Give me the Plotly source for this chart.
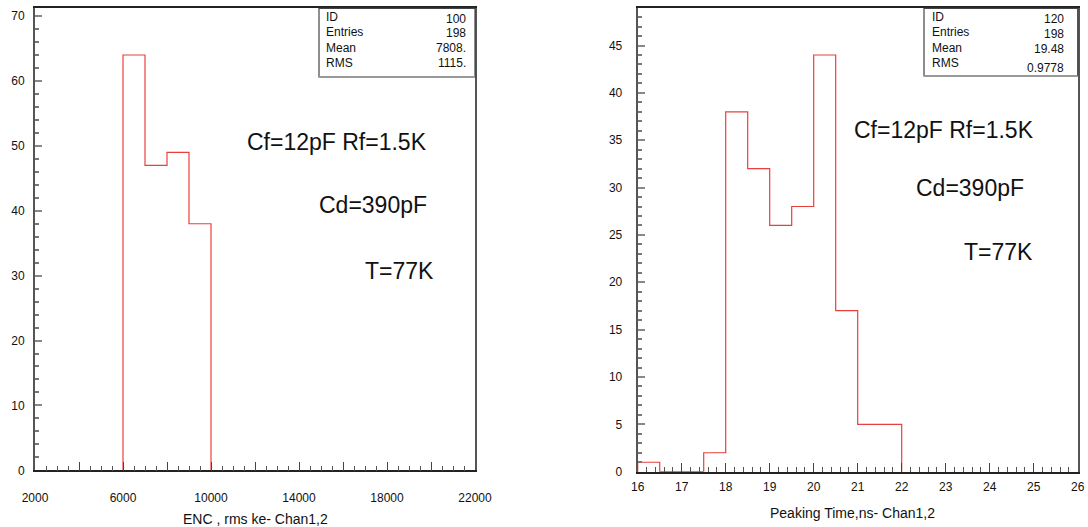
import plotly.graph_objects as go

W, H = 1088, 527

# ENC histogram (channel 1,2)
enc_edges = [6000, 7000, 8000, 9000, 10000]
enc_counts = [64, 47, 49, 38]
enc_stats = [("ID", "100"), ("Entries", "198"), ("Mean", "7808."), ("RMS", "1115.")]
enc_xticks = [2000, 4000, 6000, 8000, 10000, 12000, 14000, 16000, 18000, 20000, 22000]
enc_xlabels = ["2000", "", "6000", "", "10000", "", "14000", "", "18000", "", "22000"]

# Peaking time histogram (channel 1,2)
pt_edges = [16.0, 16.5, 17.0, 17.5, 18.0, 18.5, 19.0, 19.5, 20.0, 20.5, 21.0, 21.5, 22.0]
pt_counts = [1, 0, 0, 2, 38, 32, 26, 28, 44, 17, 5, 5]
pt_stats = [("ID", "120"), ("Entries", "198"), ("Mean", "19.48"), ("RMS", "0.9778")]

conditions = ["Cf=12pF Rf=1.5K", "Cd=390pF", "T=77K"]

FONT = "Liberation Sans, Arial, sans-serif"
RED = "#e8403c"


def px(x):
    return x / W


def py(y):
    return 1 - y / H


def step_path(edges, counts):
    xs = [edges[0]] + list(edges[:-1]) + [edges[-1]]
    ys = [0] + list(counts) + [0]
    return xs, ys


fig = go.Figure()

x1, y1 = step_path(enc_edges, enc_counts)
fig.add_trace(go.Scatter(x=x1, y=y1, mode="lines", line=dict(color=RED, width=1.2, shape="hv"),
                         xaxis="x", yaxis="y", showlegend=False, hoverinfo="skip"))
x2, y2 = step_path(pt_edges, pt_counts)
fig.add_trace(go.Scatter(x=x2, y=y2, mode="lines", line=dict(color=RED, width=1.2, shape="hv"),
                         xaxis="x2", yaxis="y2", showlegend=False, hoverinfo="skip"))

tickfont = dict(family=FONT, size=12, color="#111")

fig.update_layout(
    width=W, height=H,
    margin=dict(l=0, r=0, t=0, b=0, autoexpand=False),
    paper_bgcolor="white", plot_bgcolor="white",
    xaxis=dict(domain=[px(35), px(475)], range=[2000, 22000], anchor="y", automargin=False,
               tickvals=enc_xticks, ticktext=enc_xlabels, ticks="inside", ticklen=9,
               tickcolor="#444", tickwidth=1, showgrid=False, zeroline=False,
               showline=True, linecolor="#222", linewidth=1.5, mirror=True,
               tickfont=tickfont, ticklabelstandoff=16,
               minor=dict(dtick=500, ticks="inside", ticklen=5, tickcolor="#555", showgrid=False)),
    yaxis=dict(domain=[py(470.3), py(8.3)], range=[0, 71.2], anchor="x", automargin=False,
               dtick=10, ticks="inside", ticklen=7, tickcolor="#888", tickwidth=2,
               showgrid=False, zeroline=False,
               showline=True, linecolor="#555", linewidth=2, mirror=True,
               tickfont=tickfont, ticklabelstandoff=6,
               minor=dict(dtick=2, ticks="inside", ticklen=4, tickcolor="#777", showgrid=False)),
    xaxis2=dict(domain=[px(637.7), px(1077.7)], range=[16, 26], anchor="y2", automargin=False,
                dtick=1, ticks="inside", ticklen=9, tickcolor="#444", tickwidth=1,
                showgrid=False, zeroline=False,
                showline=True, linecolor="#222", linewidth=1.5, mirror=True,
                tickfont=tickfont, ticklabelstandoff=3,
                minor=dict(dtick=0.2, ticks="inside", ticklen=5, tickcolor="#555", showgrid=False)),
    yaxis2=dict(domain=[py(471.7), py(8.3)], range=[0, 48.93], anchor="x2", automargin=False,
                dtick=5, ticks="inside", ticklen=7, tickcolor="#888", tickwidth=2,
                showgrid=False, zeroline=False,
                showline=True, linecolor="#555", linewidth=2, mirror=True,
                tickfont=tickfont, ticklabelstandoff=11,
                minor=dict(dtick=1, ticks="inside", ticklen=4, tickcolor="#777", showgrid=False)),
)

shapes = []
annotations = []


def text(x, y, s, size, anchor="center"):
    annotations.append(dict(x=px(x), y=py(y), xref="paper", yref="paper", text=s,
                            showarrow=False, xanchor=anchor, yanchor="middle",
                            font=dict(family=FONT, size=size, color="#111")))


# statistics boxes
def stats_box(left, right, bottom, rows, label_x, value_x, ys):
    shapes.append(dict(type="rect", xref="paper", yref="paper",
                       x0=px(left), x1=px(right), y0=py(bottom), y1=py(8.3),
                       line=dict(color="#444", width=1.2), fillcolor="white"))
    shapes.append(dict(type="line", xref="paper", yref="paper",
                       x0=px(left), x1=px(right), y0=py(bottom), y1=py(bottom),
                       line=dict(color="#999", width=2)))
    for (lab, val), (yl, yv) in zip(rows, ys):
        text(label_x, yl, lab, 12, "left")
        text(value_x, yv, val, 12, "right")


stats_box(319, 475, 77, enc_stats, 324, 468, [(17, 19), (32, 33), (48, 48), (63, 63)])
stats_box(924, 1077.7, 76, pt_stats, 930, 1066, [(17, 19), (32, 34), (48, 49), (63, 68)])

# experimental conditions
for s, (x, y) in zip(conditions, [(337, 142), (373, 205), (399, 271)]):
    text(x, y, s, 23)
for s, (x, y) in zip(conditions, [(944, 130), (970, 188), (998, 252)]):
    text(x, y, s, 23)

# axis titles
text(255, 519, "ENC , rms ke- Chan1,2", 14)
text(852, 513, "Peaking Time,ns- Chan1,2", 14)

fig.update_layout(shapes=shapes, annotations=annotations)

fig.write_html("out.html")
